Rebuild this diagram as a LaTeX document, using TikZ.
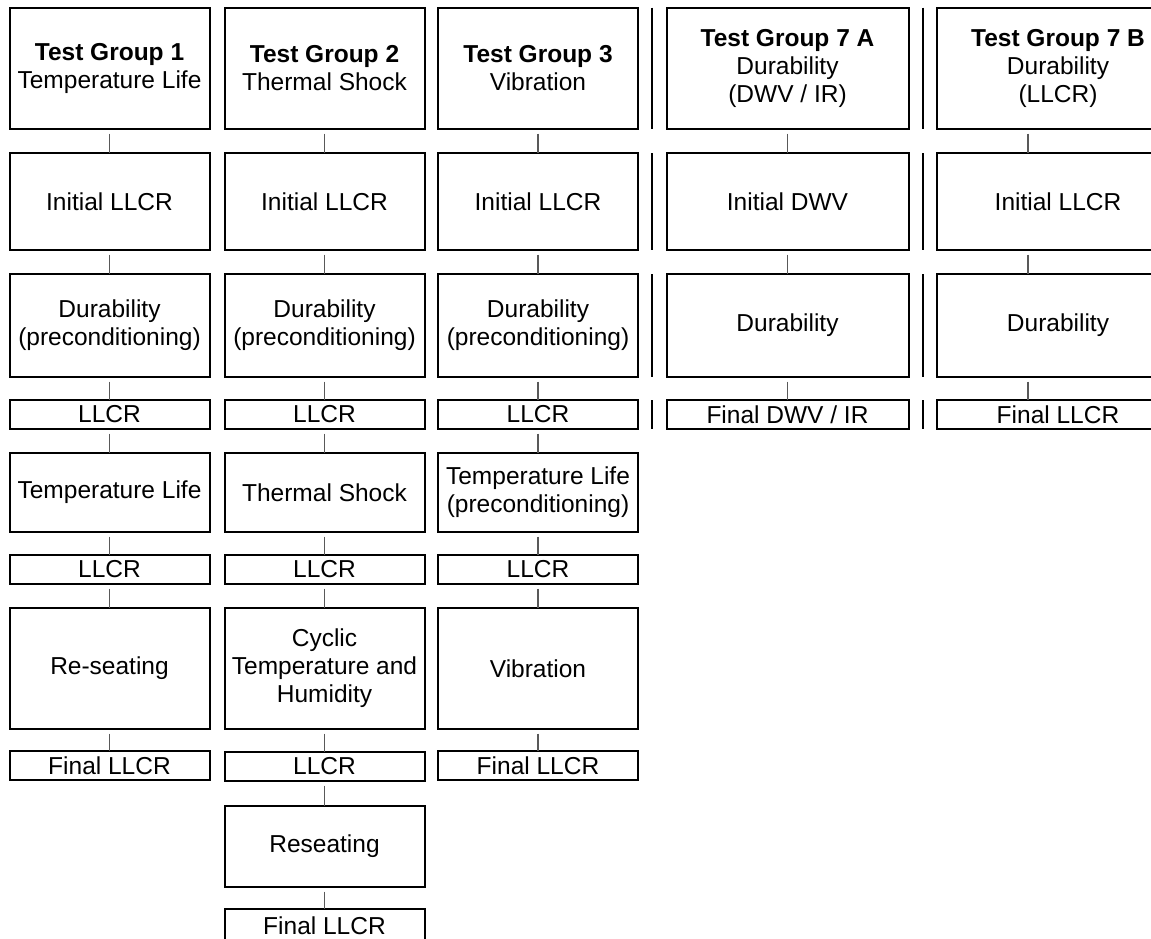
\documentclass[tikz,border=0pt]{standalone}
\usepackage{fontspec}
\setmainfont{Liberation Sans}
\begin{document}
\begin{tikzpicture}[x=1pt,y=-1pt,
  box/.style={draw, line width=2pt, inner sep=0pt, outer sep=0pt, align=center,
              font=\fontsize{24.5}{28}\selectfont},
  narrow/.style={minimum width=200},
  wide/.style={minimum width=242},
  rA/.style={minimum height=121.5},
  rB/.style={minimum height=97},
  rC/.style={minimum height=103},
  rS/.style={minimum height=29},
  rE/.style={minimum height=79},
  rG/.style={minimum height=121},
  rI/.style={minimum height=81},
  conn/.style={draw=black!65, line width=1.1pt, shorten <=4.5pt},
  sepline/.style={line width=2.2pt}]
\useasboundingbox (0,0) rectangle (1151,938);
\clip (0,0) rectangle (1151,938);
% column 1
\node[box,narrow,rA] (a1) at (109.5,68.25) {\textbf{Test Group 1}\\Temperature Life};
\node[box,narrow,rB] (a2) at (109.5,201.5) {Initial LLCR};
\node[box,narrow,rC] (a3) at (109.5,325.5) {Durability\\(preconditioning)};
\node[box,narrow,rS] (a4) at (109.5,414.5) {LLCR};
\node[box,narrow,rE] (a5) at (109.5,492.5) {Temperature Life};
\node[box,narrow,rS] (a6) at (109.5,569.5) {LLCR};
\node[box,narrow,rG] (a7) at (109.5,668.5) {Re-seating};
\node[box,narrow,rS] (a8) at (109.5,765.5) {Final LLCR};
% column 2
\node[box,narrow,rA] (b1) at (324.5,68.25) {\textbf{Test Group 2}\\Thermal Shock};
\node[box,narrow,rB] (b2) at (324.5,201.5) {Initial LLCR};
\node[box,narrow,rC] (b3) at (324.5,325.5) {Durability\\(preconditioning)};
\node[box,narrow,rS] (b4) at (324.5,414.5) {LLCR};
\node[box,narrow,rE] (b5) at (324.5,492.5) {Thermal Shock};
\node[box,narrow,rS] (b6) at (324.5,569.5) {LLCR};
\node[box,narrow,rG] (b7) at (324.5,668.5) {Cyclic\\Temperature and\\Humidity};
\node[box,narrow,rS] (b8) at (324.5,766.5) {LLCR};
\node[box,narrow,rI] (b9) at (324.5,846.5) {Reseating};
\node[box,narrow,minimum height=33] (b10) at (324.5,925.5) {Final LLCR};
% column 3
\node[box,narrow,rA] (c1) at (538,68.25) {\textbf{Test Group 3}\\Vibration};
\node[box,narrow,rB] (c2) at (538,201.5) {Initial LLCR};
\node[box,narrow,rC] (c3) at (538,325.5) {Durability\\(preconditioning)};
\node[box,narrow,rS] (c4) at (538,414.5) {LLCR};
\node[box,narrow,rE] (c5) at (538,492.5) {Temperature Life\\(preconditioning)};
\node[box,narrow,rS] (c6) at (538,569.5) {LLCR};
\node[box,narrow,rG] (c7) at (538,668.5) {Vibration};
\node[box,narrow,rS] (c8) at (538,765.5) {Final LLCR};
% column 7A
\node[box,wide,rA] (d1) at (787.5,68.25) {\textbf{Test Group 7 A}\\Durability\\(DWV / IR)};
\node[box,wide,rB] (d2) at (787.5,201.5) {Initial DWV};
\node[box,wide,rC] (d3) at (787.5,325.5) {Durability};
\node[box,wide,rS] (d4) at (787.5,414.5) {Final DWV / IR};
% column 7B
\node[box,wide,rA] (e1) at (1058,68.25) {\textbf{Test Group 7 B}\\Durability\\(LLCR)};
\node[box,wide,rB] (e2) at (1058,201.5) {Initial LLCR};
\node[box,wide,rC] (e3) at (1058,325.5) {Durability};
\node[box,wide,rS] (e4) at (1058,414.5) {Final LLCR};
% connectors
\foreach \p/\q in {a1/a2,a2/a3,a3/a4,a4/a5,a5/a6,a6/a7,a7/a8,
                   b1/b2,b2/b3,b3/b4,b4/b5,b5/b6,b6/b7,b7/b8,b8/b9,b9/b10,
                   c1/c2,c2/c3,c3/c4,c4/c5,c5/c6,c6/c7,c7/c8,
                   d1/d2,d2/d3,d3/d4}
  \draw[conn] (\p.south) -- (\q.north);
\coordinate (xB) at (1028,0);
\foreach \p/\q in {e1/e2,e2/e3,e3/e4}
  \draw[conn] (\p.south -| xB) -- (\q.north -| xB);
% separators
\coordinate (sepA) at (652,0);
\coordinate (sepB) at (923,0);
\foreach \r in {1,2,3,4}{
  \draw[sepline] (d\r.north -| sepA) -- (d\r.south -| sepA);
  \draw[sepline] (d\r.north -| sepB) -- (d\r.south -| sepB);
}
\end{tikzpicture}
\end{document}
